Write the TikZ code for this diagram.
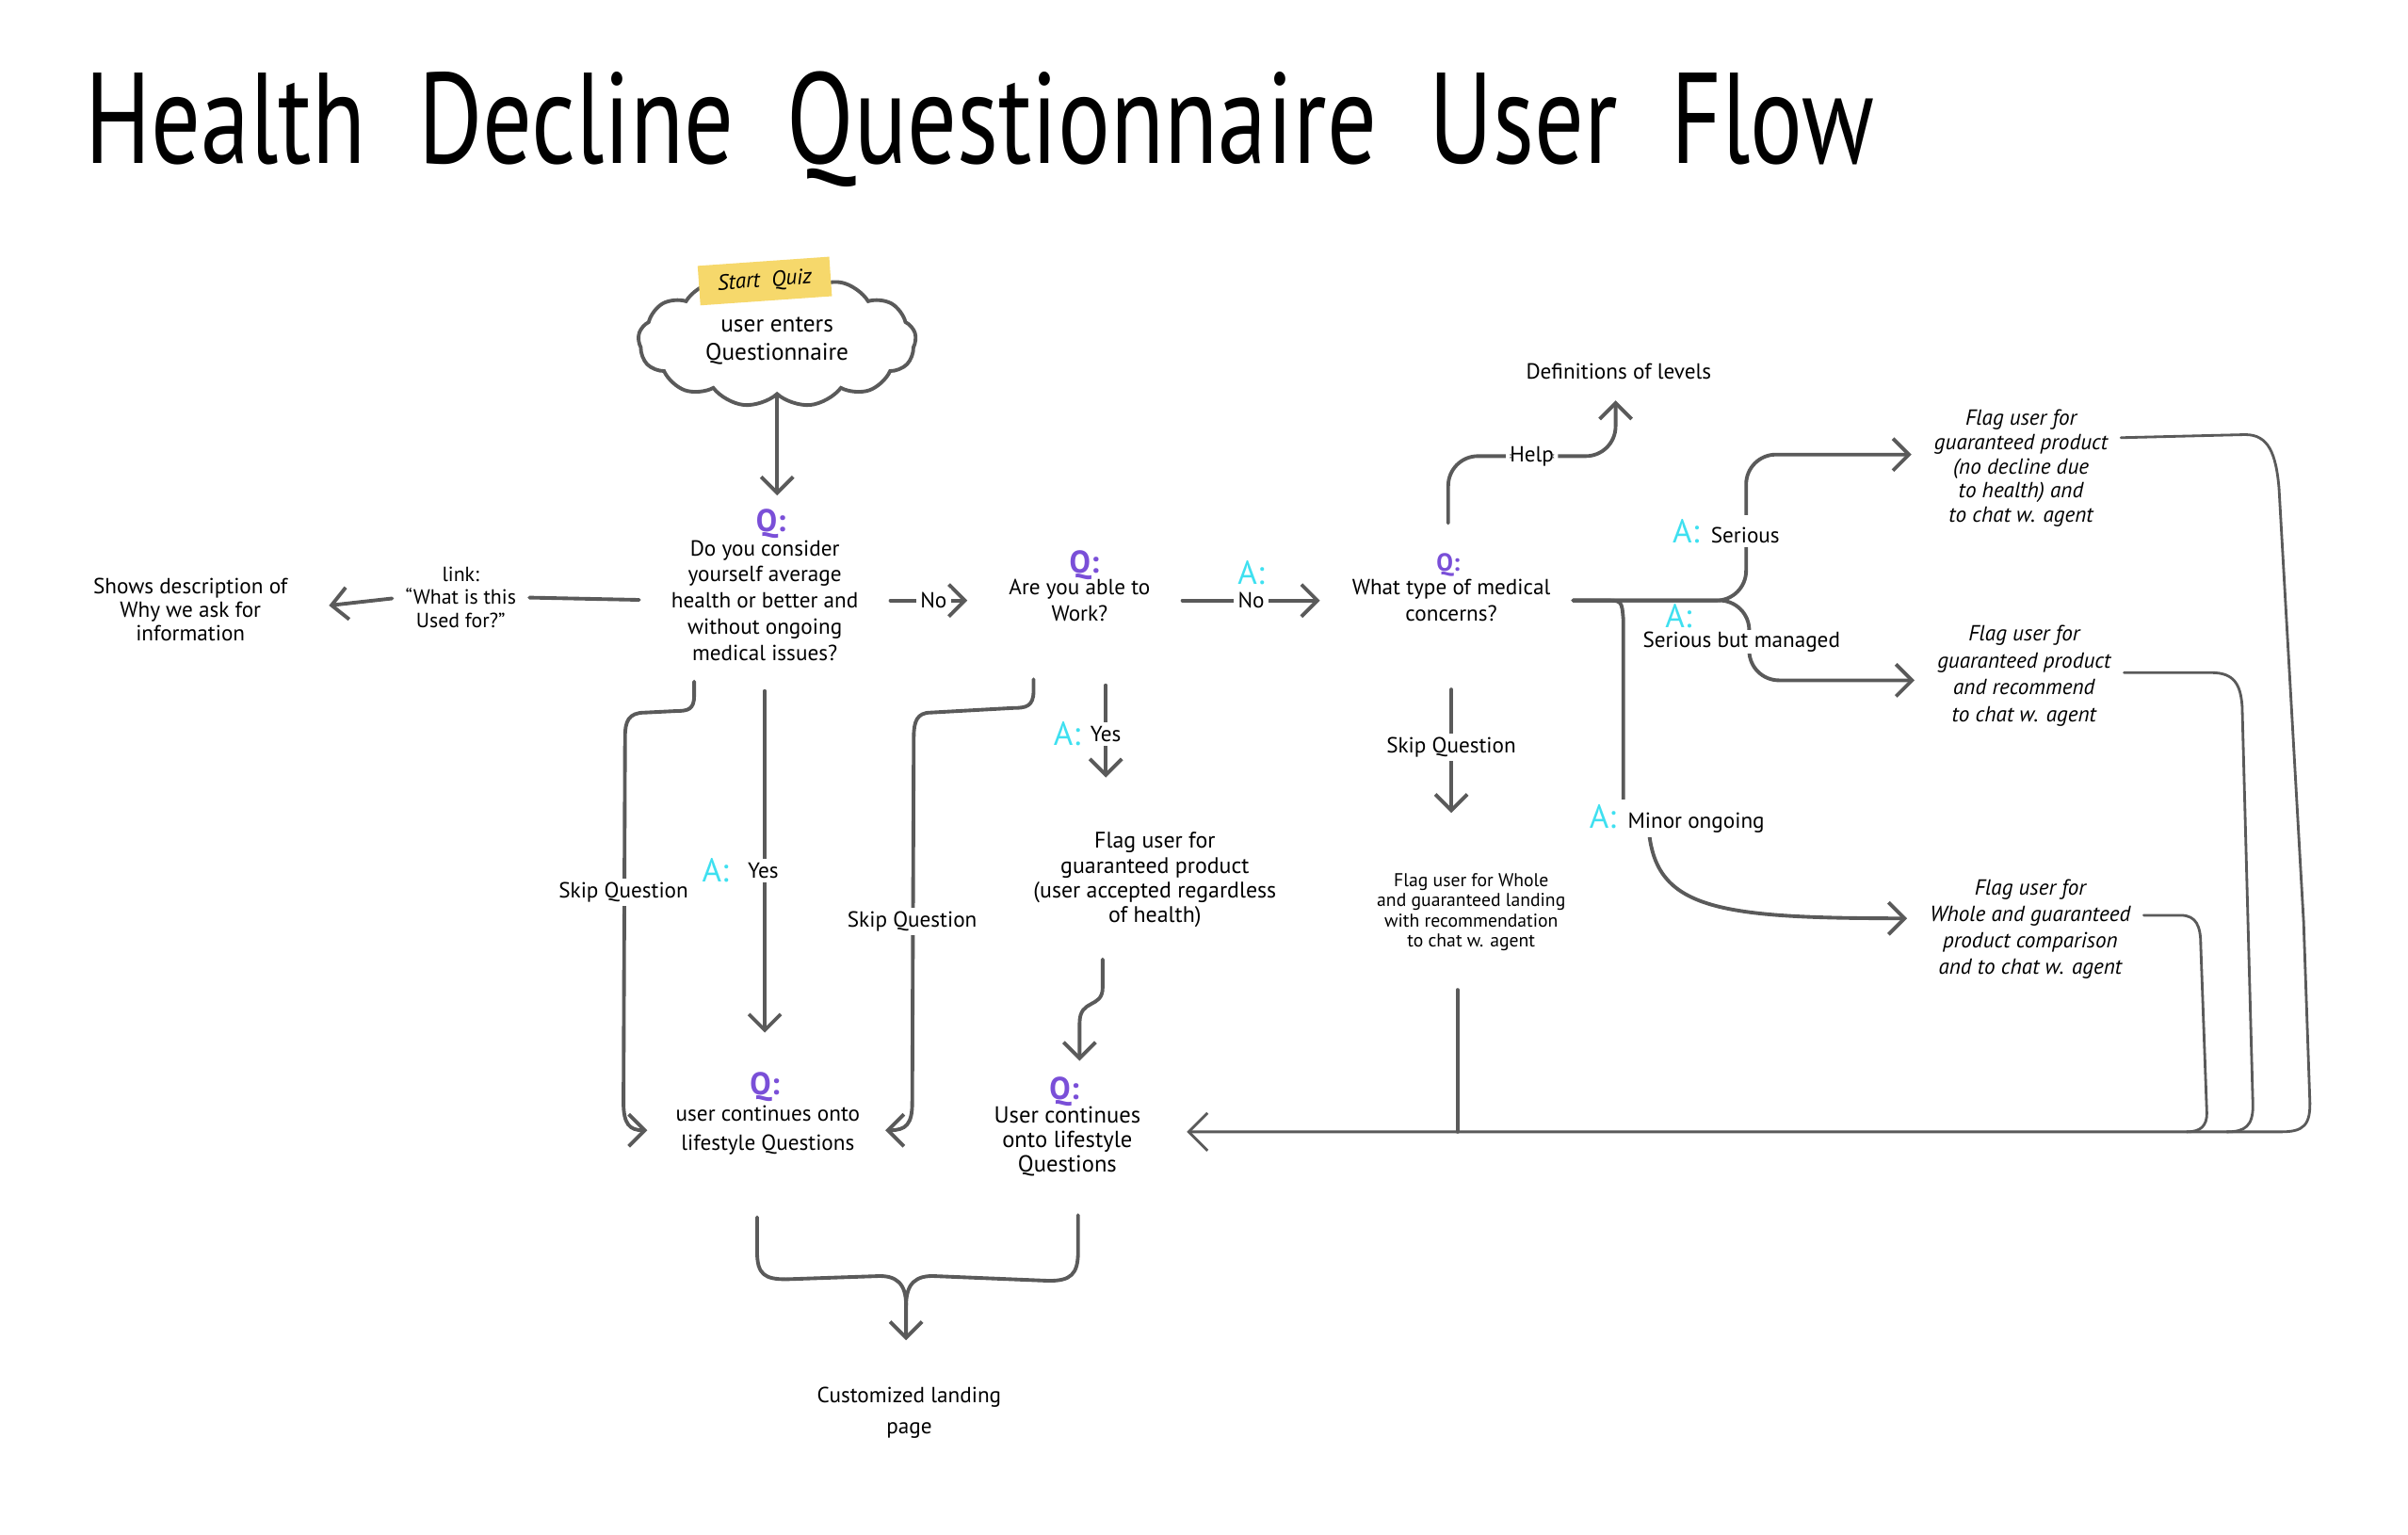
\documentclass[tikz,border=0pt]{standalone}
\usepackage{fontspec}
\setmainfont{PT Sans}
\usetikzlibrary{arrows.meta,shapes.symbols,calc,positioning}
\definecolor{ink}{HTML}{5A5A5A}
\definecolor{qpurple}{HTML}{7A4FD8}
\definecolor{acyan}{HTML}{3EE0F0}
\definecolor{tagyellow}{HTML}{F6D86B}
\begin{document}
\begin{tikzpicture}[x=0.16307mm,y=-0.16307mm,
  txt/.style={align=center, font=\fontsize{6.6}{7.9}\selectfont, text=black, inner sep=1pt},
  itxt/.style={align=center, font=\fontsize{6.6}{7.3}\selectfont\itshape, text=black, inner sep=1pt},
  small/.style={align=center, font=\fontsize{5.6}{6.1}\selectfont, text=black, inner sep=1pt},
  qmark/.style={font=\fontsize{9.5}{9.5}\selectfont\bfseries, text=qpurple, inner sep=0.5pt},
  amark/.style={font=\fontsize{10}{10}\selectfont, text=acyan, inner sep=0.5pt},
  lbl/.style={fill=white, font=\fontsize{6.6}{7}\selectfont, text=black, inner sep=1.2pt},
  line/.style={draw=ink, line width=1.1pt, line cap=round, line join=round},
  rline/.style={draw=ink, line width=0.8pt, line cap=round, line join=round},
  arr/.style={line, -{Straight Barb[length=1.7mm,width=3.4mm]}},
  rarr/.style={rline, -{Straight Barb[length=2mm,width=4mm]}}
]
\useasboundingbox[fill=white] (0,0) rectangle (1568,999);

% title
\node[anchor=west, font=\fontsize{30}{30}\selectfont, inner sep=0] (title) at (55,84)
  {\scalebox{0.99}[1.3]{Health\ \ Decline\ \ Questionnaire\ \ User\ \ Flow}};

% start cloud
\node[cloud, draw=ink, line width=1.1pt, cloud puffs=13, cloud puff arc=95, cloud ignores aspect,
      minimum width=29.5mm, minimum height=14mm, txt, font=\fontsize{7.2}{8.6}\selectfont] (cloud) at (506,222)
  {user enters\\Questionnaire};
\node[fill=tagyellow, rotate=4, font=\fontsize{6.6}{7}\selectfont\itshape, minimum width=14mm,
      minimum height=4.2mm, inner sep=1pt] (tag) at (498,183) {Start\ \ Quiz};

% question 1
\node[qmark] (q1q) at (502,341) {Q:};
\node[txt] (q1) at (498,391) {Do you consider\\yourself average\\health or better and\\without ongoing\\medical issues?};

% link / description
\node[txt, font=\fontsize{6.2}{6.9}\selectfont] (link) at (300,389) {link:\\“What is this\\Used for?”};
\node[txt, font=\fontsize{6.6}{7.1}\selectfont] (desc) at (124,397) {Shows description of\\Why we ask for\\information};

% question 2
\node[qmark] (q2q) at (706,368) {Q:};
\node[txt] (q2) at (703,391) {Are you able to\\Work?};

% question 3
\node[qmark, font=\fontsize{7.5}{7.5}\selectfont\bfseries] (q3q) at (943,368) {Q:};
\node[txt] (q3) at (945,391) {What type of medical\\concerns?};
\node[txt] (defs) at (1054,242) {Definitions of levels};

% right flags
\node[itxt] (f1) at (1316,305) {Flag user for\\guaranteed product\\(no decline due\\to health) and\\to chat w. agent};
\node[itxt, font=\fontsize{6.6}{8.1}\selectfont\itshape] (f2) at (1318,440) {Flag user for\\guaranteed product\\and recommend\\to chat w. agent};
\node[itxt, font=\fontsize{6.6}{7.9}\selectfont\itshape] (f3) at (1322,605) {Flag user for\\Whole and guaranteed\\product comparison\\and to chat w. agent};
\node[small] (f4) at (958,594) {Flag user for Whole\\and guaranteed landing\\with recommendation\\to chat w. agent};
\node[txt, font=\fontsize{6.8}{7.5}\selectfont] (f5) at (752,573) {Flag user for\\guaranteed product\\(user accepted regardless\\of health)};

% lifestyle questions
\node[qmark] (q4q) at (498,708) {Q:};
\node[txt, font=\fontsize{6.6}{8.8}\selectfont] (q4) at (500,736) {user continues onto\\lifestyle Questions};
\node[qmark] (q5q) at (693,711) {Q:};
\node[txt, font=\fontsize{7}{7.4}\selectfont] (q5) at (695,743) {User continues\\onto lifestyle\\Questions};
\node[txt, font=\fontsize{6.6}{9.2}\selectfont] (final) at (592,920) {Customized landing\\page};

% ---------- connectors ----------
\draw[arr, shorten >=1.2mm] (cloud.south) -- (cloud.south |- q1q.north);

\draw[line, shorten <=3mm, shorten >=1mm] (q1.west) -- (link.east);
\draw[arr, shorten <=1mm, shorten >=4mm] (link.west) -- (desc.east);

\draw[arr, shorten <=3mm, shorten >=4mm] (q1.east) -- node[lbl] {No} (q2.west);
\draw[arr, shorten <=3mm, shorten >=3mm] (q2.east) -- node[lbl] (no2) {No} (q3.west);
\node[amark, above=0pt of no2] (ano2) {A:};

% help
\coordinate (hc) at (1052,297);
\draw[arr, rounded corners=9pt, shorten <=3mm, shorten >=1.8mm] (q3q.north) |- node[lbl, pos=0.75] {Help} (hc) -- (hc |- defs.south);

% serious
\coordinate (sj) at (1137,391);
\coordinate (sup) at (1137,296);
\draw[arr, rounded corners=9pt, shorten <=2mm, shorten >=2mm] (q3.east) -- (sj) -- (sup) -- (sup -| f1.west);
% serious but managed
\coordinate (mj) at (1139,443);
\draw[arr, rounded corners=9pt, shorten <=2mm, shorten >=2mm] (q3.east) -- (1139,391) -- (mj) -- (mj -| f2.west);
% minor ongoing
\coordinate (mo) at ($(f3.west)+(0,-7)$);
\draw[arr, shorten <=2mm, shorten >=2mm] (q3.east) -- (1045,391) .. controls (1056,391) .. (1057,403)
   -- (1057,530) -- (1074,544) .. controls (1080,592) and (1120,598) .. (mo);

\node[lbl] (aser) at (1124,346) {\textcolor{acyan}{\fontsize{10}{10}\selectfont A:}\ \ Serious};
\node[lbl, inner sep=0.6pt] (sbm) at (1134,418) {Serious but managed};
\node[amark] (asbm) at (1093,401) {A:};
\node[lbl, minimum height=4mm] (amin) at (1092,533) {\textcolor{acyan}{\fontsize{10}{10}\selectfont A:}\ \ Minor ongoing};

% skip from q3
\draw[arr, shorten <=6.8mm, shorten >=6mm] (q3.south) -- node[lbl] {Skip Question} (q3.south |- f4.north);
\coordinate (r4) at (949,737);
\draw[line, shorten <=3.7mm] (f4.south -| r4) -- (r4);

% returns to q5
\coordinate (r1) at ($(f1.east)+(6,-20)$);
\draw[rarr, shorten >=4.5mm] (r1) -- (1462,283) .. controls (1477,283) and (1482,295) .. (1484,318)
   -- (1500,600) -- (1504,715) .. controls (1505,733) and (1500,737) .. (1485,737) -- (q5.east |- r4);
\coordinate (r2s) at ($(f2.east)+(6,-2)$);
\coordinate (r2) at (1450,737);
\draw[rline] (r2s) -- (1440,438) .. controls (1455,438) and (1459,446) .. (1460,460)
   -- (1467,720) .. controls (1467,733) and (1462,737) .. (r2);
\coordinate (r3s) at ($(f3.east)+(6,-9)$);
\coordinate (r3) at (1424,737);
\draw[rline] (r3s) -- (1420,596) .. controls (1430,596) and (1433,603) .. (1433,615)
   -- (1437,725) .. controls (1437,733) and (1433,737) .. (r3);

% q1 down
\coordinate (s1) at ($(q1.south)+(-46,11)$);
\coordinate (q4w) at ($(q4.west)+(-16,0)$);
\draw[arr] (s1) -- (452,453) .. controls (452,462) and (448,463) .. (440,463)
   -- (420,464) .. controls (409,464) and (407,470) .. (407,480)
   -- (406,718) .. controls (406,732) and (410,736) .. (q4w);
\node[lbl] (sk1) at (406,581) {Skip Question};
\draw[arr, shorten <=2.8mm, shorten >=4mm] (q1.south) -- (q1.south |- q4q.north);
\node[lbl] (y1) at (497,567) {Yes};
\node[amark, anchor=east] (ay1) at ($(y1.west)+(-8,0)$) {A:};

% q2 down
\coordinate (s2) at ($(q2.south)+(-30,35)$);
\coordinate (q4e) at ($(q4.east)+(14,0)$);
\draw[arr] (s2) -- (673,450) .. controls (673,460) and (668,461) .. (660,461)
   -- (606,464) .. controls (597,464) and (595,470) .. (595,480)
   -- (594,718) .. controls (594,732) and (590,736) .. (q4e);
\node[lbl] (sk2) at (594,600) {Skip Question};
\coordinate (q2y) at ($(q2.south)+(17,39)$);
\draw[arr, shorten >=5.4mm] (q2y) -- (q2y |- f5.north);
\node[lbl] (y2) at (720,478) {Yes};
\node[amark, anchor=east] (ay2) at ($(y2.west)+(-2,0)$) {A:};

\coordinate (f5b) at ($(f5.south)+(-34,18)$);
\draw[arr, shorten >=1.5mm] (f5b) -- (718,643) .. controls (718,657) and (703,650) .. (703,666) -- (703,0 |- q5q.north);

% bottom merge
\coordinate (b4) at ($(q4.south)+(-7,38)$);
\coordinate (b5) at ($(q5.south)+(7,23)$);
\coordinate (jn) at (590,850);
\draw[arr, shorten >=4.6mm] (b4) -- (493,815) .. controls (493,830) and (498,833) .. (512,833)
   -- (570,831) .. controls (584,830) and (590,836) .. (jn) -- (jn |- final.north);
\draw[line] (b5) -- (702,815) .. controls (702,830) and (697,834) .. (683,834)
   -- (610,831) .. controls (596,830) and (590,836) .. (jn);
\end{tikzpicture}
\end{document}
